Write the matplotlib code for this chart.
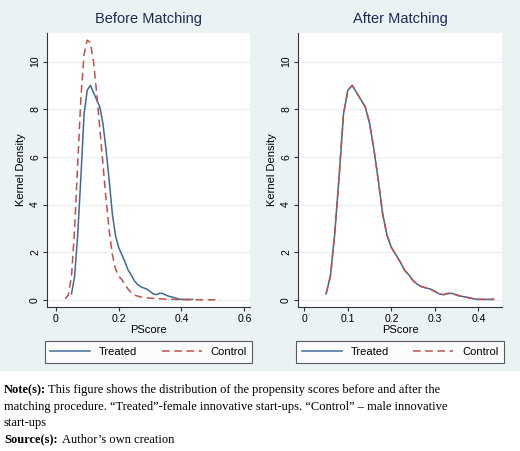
import matplotlib
matplotlib.use("Agg")
import matplotlib.pyplot as plt
from matplotlib.lines import Line2D

plt.rcParams['font.family'] = ['Liberation Sans', 'DejaVu Sans']

treated_x = [0.05,0.06,0.07,0.08,0.09,0.10,0.11,0.12,0.13,0.14,0.15,0.16,0.17,0.18,0.19,0.20,0.21,0.22,0.23,0.24,0.25,0.26,0.27,0.28,0.29,0.30,0.31,0.32,0.33,0.34,0.35,0.36,0.37,0.38,0.39,0.40,0.435]
treated_y = [0.25,1.0,2.8,5.2,7.8,8.8,9.0,8.7,8.4,8.1,7.4,6.3,5.0,3.6,2.7,2.2,1.9,1.6,1.25,1.05,0.8,0.65,0.55,0.5,0.45,0.35,0.25,0.22,0.27,0.27,0.2,0.15,0.12,0.08,0.04,0.02,0.02]
control_before_x = [0.03,0.04,0.05,0.06,0.07,0.08,0.09,0.10,0.11,0.12,0.13,0.14,0.15,0.16,0.17,0.18,0.19,0.20,0.21,0.22,0.23,0.24,0.25,0.27,0.30,0.35,0.40,0.45,0.523]
control_before_y = [0.05,0.2,1.0,3.0,5.8,8.5,10.3,10.9,10.8,10.0,8.7,7.2,5.7,4.2,2.9,1.9,1.3,1.0,0.85,0.65,0.45,0.3,0.2,0.12,0.07,0.03,0.01,0.005,0.0]
control_after_x = treated_x
control_after_y = treated_y
yticks = [0, 2, 4, 6, 8, 10]

BG = "#eaf2f3"
BLUE = "#3d6a98"
RED = "#c0504d"
NAVY = "#1c2a5a"

fig = plt.figure(figsize=(5.2, 4.51), dpi=100)
fig.patch.set_facecolor("white")
fig.add_artist(plt.Rectangle((0, 1-370/451), 1, 370/451, transform=fig.transFigure, color=BG, zorder=-10))

W, H = 520, 451
def ax_at(x0, x1, y0, y1):
    return fig.add_axes([x0/W, 1-y1/H, (x1-x0)/W, (y1-y0)/H])

panels = [
    (ax_at(47, 250, 33, 307), "Before Matching", control_before_x, control_before_y, (-0.028, 0.618), [0, 0.2, 0.4, 0.6], ["0", "0.2", "0.4", "0.6"], (57, 240)),
    (ax_at(298, 502, 33, 307), "After Matching", control_after_x, control_after_y, (-0.0145, 0.454), [0, 0.1, 0.2, 0.3, 0.4], ["0", "0.1", "0.2", "0.3", "0.4"], (308, 492)),
]
for ax, title, cx, cy, xl, xt, xtl, (lx0, lx1) in panels:
    ax.set_facecolor("white")
    for y in yticks:
        ax.axhline(y, color="#e8eef1", lw=0.8, zorder=0)
    ax.plot(treated_x, treated_y, color=BLUE, lw=1.1)
    ax.plot(cx, cy, color=RED, lw=1.1, dashes=(5, 3))
    ax.set_xlim(*xl); ax.set_ylim(-0.3, 11.2)
    ax.set_xticks(xt); ax.set_xticklabels(xtl)
    ax.set_yticks(yticks)
    ax.set_yticklabels([str(v) for v in yticks], rotation=90, va="center")
    ax.tick_params(labelsize=7.5, length=3, color="#333333", pad=2)
    for s in ["top", "right"]:
        ax.spines[s].set_visible(False)
    for s in ["left", "bottom"]:
        ax.spines[s].set_color("#333333"); ax.spines[s].set_linewidth(0.8)
    ax.set_title(title, fontsize=10.5, color=NAVY, pad=7)
    ax.set_xlabel("PScore", fontsize=8, labelpad=1)
    ax.set_ylabel("Kernel Density", fontsize=8, labelpad=3)
    handles = [Line2D([], [], color=BLUE, lw=1.1), Line2D([], [], color=RED, lw=1.1, dashes=(5, 3))]
    leg = fig.legend(handles, ["Treated", "Control"], loc="center",
                     bbox_to_anchor=((lx0+lx1)/2/W, 1-352/H), ncol=2, fontsize=8,
                     frameon=True, fancybox=False, edgecolor="#333333",
                     handlelength=3.6, columnspacing=2.2, borderpad=0.5)
    leg.get_frame().set_linewidth(0.8)

serif = "Liberation Serif"
fig.text(4/W, 1-390/H, "Note(s):", fontsize=9, family=serif, weight="bold", va="center")
fig.text(48/W, 1-390/H, "This figure shows the distribution of the propensity scores before and after the",
         fontsize=9, family=serif, va="center")
fig.text(4/W, 1-407/H, "matching procedure. \u201cTreated\u201d-female innovative start-ups. \u201cControl\u201d \u2013 male innovative",
         fontsize=9, family=serif, va="center")
fig.text(4/W, 1-423/H, "start-ups", fontsize=9, family=serif, va="center")
fig.text(4/W, 1-440/H, "Source(s):", fontsize=9, family=serif, weight="bold", va="center")
fig.text(62/W, 1-440/H, "Author\u2019s own creation", fontsize=9, family=serif, va="center")

fig.savefig("out.png", dpi=100, facecolor=fig.get_facecolor())
